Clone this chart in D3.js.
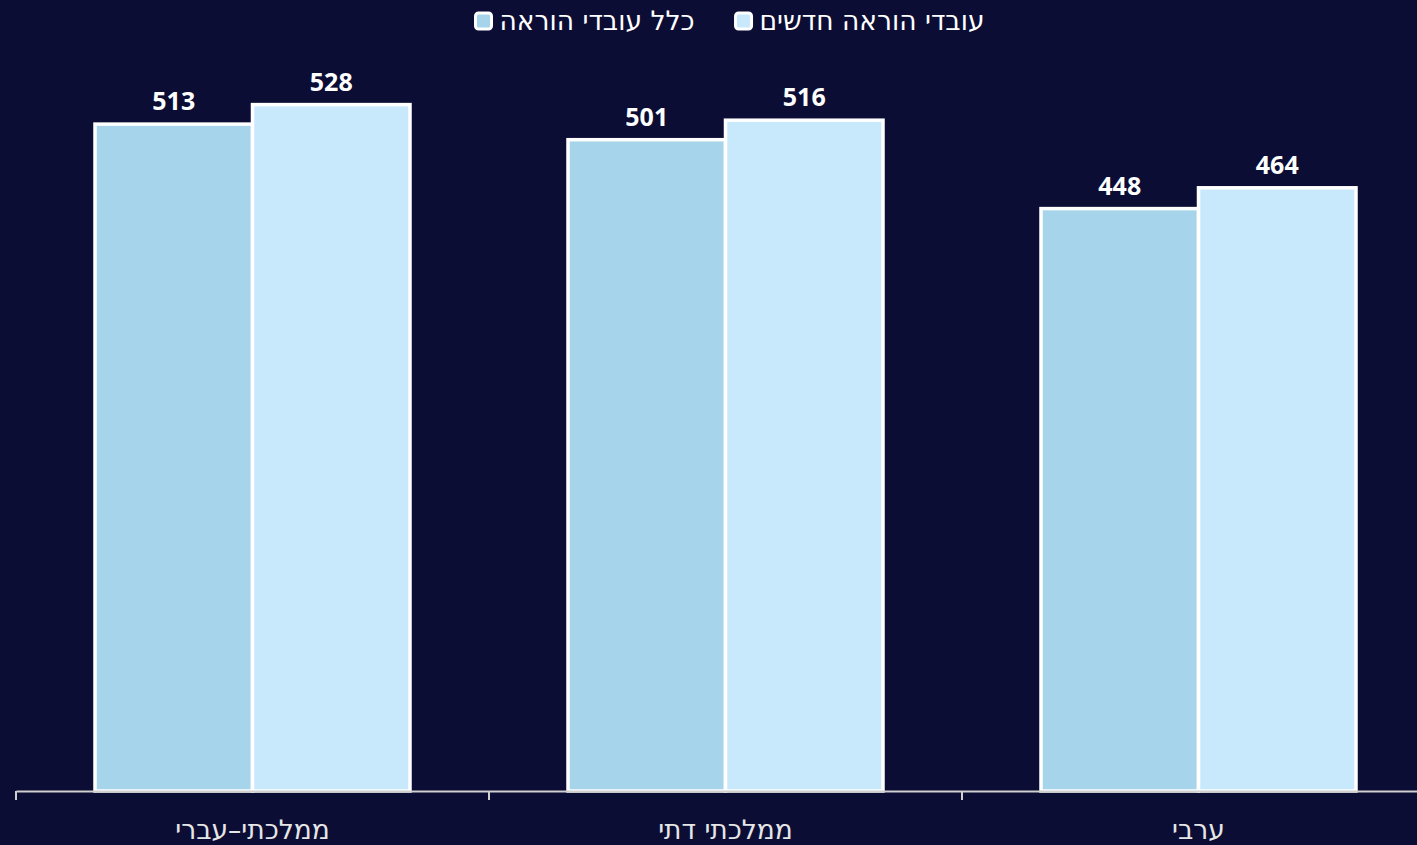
<!DOCTYPE html>
<html><head><meta charset="utf-8">
<script src="https://cdn.jsdelivr.net/npm/d3@7"></script>
<style>
html,body{margin:0;padding:0;background:#0b0d35;}
svg{display:block;}
</style></head>
<body>
<svg id="chart" width="1417" height="845"></svg>
<script>
const categories = ["ממלכתי–עברי", "ממלכתי דתי", "ערבי"];
const seriesNames = ["כלל עובדי הוראה", "עובדי הוראה חדשים"];
const allTeachers = [513, 501, 448];
const newTeachers = [528, 516, 464];
const seriesColors = ["#a6d4ea", "#c8e8fc"];

const W = 1417, H = 845;
const svg = d3.select("#chart");
svg.append("rect").attr("width", W).attr("height", H).attr("fill", "#0b0d35");

const baseY = 791;
const x0 = d3.scaleBand().domain(categories).range([16, 1435]).paddingInner(0).paddingOuter(0);
const x1 = d3.scaleBand().domain(seriesNames).range([79, 394]).padding(0);
const y = d3.scaleLinear().domain([0, 600]).range([baseY, 11]);

const data = categories.map((c, i) => ({cat: c, vals: [
  {s: seriesNames[0], v: allTeachers[i], color: seriesColors[0]},
  {s: seriesNames[1], v: newTeachers[i], color: seriesColors[1]}
]}));

const g = svg.append("g");
const groups = g.selectAll("g.cat").data(data).join("g")
  .attr("transform", d => `translate(${x0(d.cat)},0)`);

groups.selectAll("rect").data(d => d.vals).join("rect")
  .attr("x", d => x1(d.s))
  .attr("width", x1.bandwidth())
  .attr("y", d => y(d.v))
  .attr("height", d => baseY - y(d.v))
  .attr("fill", d => d.color)
  .attr("stroke", "#ffffff")
  .attr("stroke-width", 3.5);

groups.selectAll("text.val").data(d => d.vals).join("text")
  .attr("class", "val")
  .attr("x", d => x1(d.s) + x1.bandwidth() / 2)
  .attr("y", d => y(d.v) - 14)
  .attr("text-anchor", "middle")
  .attr("fill", "#ffffff")
  .attr("font-family", "'Open Sans', 'Liberation Sans', sans-serif")
  .attr("font-weight", "bold")
  .attr("font-size", 25)
  .text(d => d.v);

// axis
const axis = d3.axisBottom(x0).tickSize(9).tickSizeOuter(0).tickFormat("");
const ax = svg.append("g").attr("transform", `translate(0,${baseY})`);
ax.call(axis);
ax.select(".domain").attr("stroke", "#d0d0d0").attr("stroke-width", 2);
ax.selectAll(".tick").attr("transform", d => `translate(${x0(d)},0)`);
ax.selectAll(".tick line").attr("stroke", "#d0d0d0").attr("stroke-width", 2);

const hebFont = "'DejaVu Sans', sans-serif";
svg.append("g").selectAll("text.cat").data(categories).join("text")
  .attr("x", d => x0(d) + x0.bandwidth() / 2)
  .attr("y", 839)
  .attr("text-anchor", "middle")
  .attr("fill", "#e6e6e6")
  .attr("font-family", hebFont)
  .attr("font-size", 26.5)
  .text(d => d);

// legend
const leg = svg.append("g");
const items = leg.selectAll("g.item").data(seriesNames).join("g");
items.append("rect")
  .attr("width", 16).attr("height", 16).attr("rx", 3)
  .attr("fill", (d, i) => seriesColors[i])
  .attr("stroke", "#ffffff").attr("stroke-width", 3);
items.append("text")
  .attr("x", 24).attr("y", 17)
  .attr("fill", "#ffffff")
  .attr("font-family", hebFont)
  .attr("font-size", 26.5)
  .text(d => d);
const widths = items.nodes().map(n => 24 + d3.select(n).select("text").node().getComputedTextLength());
const gap = 41;
const total = widths[0] + widths[1] + gap;
let start = 730 - total / 2;
items.attr("transform", (d, i) => {
  const xx = i === 0 ? start : start + widths[0] + gap;
  return `translate(${xx},13)`;
});
</script>
</body></html>
